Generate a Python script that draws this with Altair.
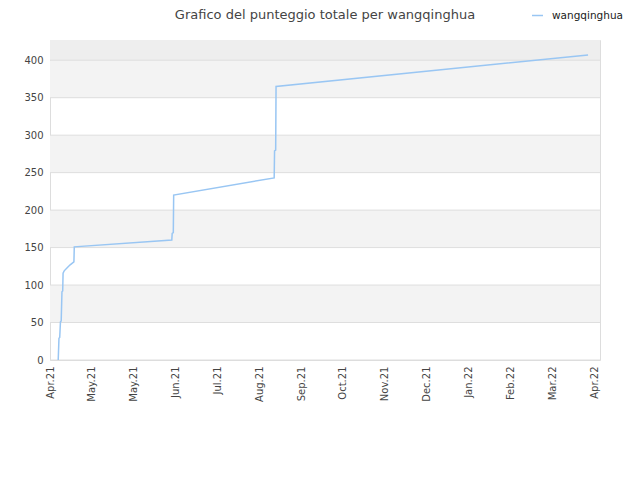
import altair as alt
import pandas as pd

# data
dates = ["2021-04-10T12:00", "2021-04-11T00:00", "2021-04-11T12:00", "2021-04-12T00:00",
         "2021-04-12T12:00", "2021-04-13T00:00", "2021-04-13T12:00", "2021-04-13T18:00",
         "2021-04-14T12:00", "2021-04-16T12:00", "2021-04-18T12:00", "2021-04-21T00:00",
         "2021-04-21T06:00", "2021-06-25T12:00", "2021-06-25T18:00", "2021-06-26T12:00",
         "2021-06-26T18:00", "2021-09-02T00:00", "2021-09-02T06:00", "2021-09-03T00:00",
         "2021-09-03T06:00", "2022-03-31T00:00"]
scores = [0, 29, 30, 51, 52, 91, 92, 116, 119, 123, 127, 131, 151, 160, 169, 170,
          220, 243, 279, 280, 365, 407]
series = ["wangqinghua"] * len(dates)

tick_dates = ["2021-04-05", "2021-05-03", "2021-05-31", "2021-06-28", "2021-07-26",
              "2021-08-23", "2021-09-20", "2021-10-18", "2021-11-15", "2021-12-13",
              "2022-01-10", "2022-02-07", "2022-03-07", "2022-04-04"]
y_ticks = [0, 50, 100, 150, 200, 250, 300, 350, 400]

band_lo = [50, 150, 250, 350]
band_hi = [100, 200, 300, 400]
top_lo = [400]
top_hi = [427]

df = pd.DataFrame({"date": pd.to_datetime(dates), "score": scores, "serie": series,
                   "idx": range(len(dates))})
bands = pd.DataFrame({"lo": band_lo, "hi": band_hi})
topband = pd.DataFrame({"lo": top_lo, "hi": top_hi})
grid = pd.DataFrame({"v": y_ticks})

x_dom = [pd.Timestamp("2021-04-05").isoformat(), pd.Timestamp("2022-04-08").isoformat()]
tick_vals = [alt.DateTime(year=int(d[:4]), month=int(d[5:7]), date=int(d[8:10])) for d in tick_dates]

xscale = alt.Scale(domain=x_dom)
yscale = alt.Scale(domain=[0, 427], nice=False)
yaxis = alt.Axis(values=y_ticks, ticks=False, domain=False, grid=False,
                 labelPadding=7, labelOverlap=False,
                 labelFont="DejaVu Sans", labelFontSize=10, labelColor="#444444")

band_layer = alt.Chart(bands).mark_rect(color="#f3f3f3").encode(
    x=alt.value(0), x2=alt.value(550),
    y=alt.Y("lo:Q", scale=yscale, axis=yaxis, title=None),
    y2="hi:Q",
)
top_layer = alt.Chart(topband).mark_rect(color="#eeeeee").encode(
    x=alt.value(0), x2=alt.value(550),
    y=alt.Y("lo:Q", scale=yscale, axis=yaxis, title=None),
    y2="hi:Q",
)
grid_layer = alt.Chart(grid).mark_rule(color="#dedede", strokeWidth=1).encode(
    x=alt.value(0), x2=alt.value(550),
    y=alt.Y("v:Q", scale=yscale, axis=yaxis, title=None),
)

line = alt.Chart(df).mark_line(strokeWidth=1.5, interpolate="linear").encode(
    x=alt.X("date:T", scale=xscale, title=None,
            axis=alt.Axis(values=tick_vals, labelExpr="timeFormat(datum.value, '%b.%y')",
                          labelAngle=-90, labelAlign="right", labelBaseline="middle",
                          ticks=False, domain=False, grid=False, labelPadding=6,
                          labelOverlap=False,
                          labelFont="DejaVu Sans", labelFontSize=10, labelColor="#444444")),
    y=alt.Y("score:Q", scale=yscale, axis=yaxis, title=None),
    order="idx:Q",
    color=alt.Color("serie:N", scale=alt.Scale(range=["#99c6f3"]),
                    legend=alt.Legend(title=None, orient="none", legendX=481, legendY=-31,
                                      symbolType="stroke", symbolStrokeWidth=1.5, symbolSize=120,
                                      labelFont="DejaVu Sans", labelFontSize=10.5,
                                      labelOffset=8, labelColor="#222222")),
)

chart = alt.layer(band_layer, top_layer, grid_layer, line).properties(
    width=550, height=320,
    title=alt.TitleParams("Grafico del punteggio totale per wangqinghua",
                          font="DejaVu Sans", fontSize=13, fontWeight="normal",
                          color="#444444", anchor="middle", offset=0, dy=13),
    autosize=alt.AutoSizeParams(type="none"),
    padding={"left": 42, "top": 32, "right": 32, "bottom": 112},
).configure_view(stroke="#dddddd", strokeWidth=1).configure(background="white")

chart.save("out.html", embed_options={"renderer": "svg", "actions": False})
